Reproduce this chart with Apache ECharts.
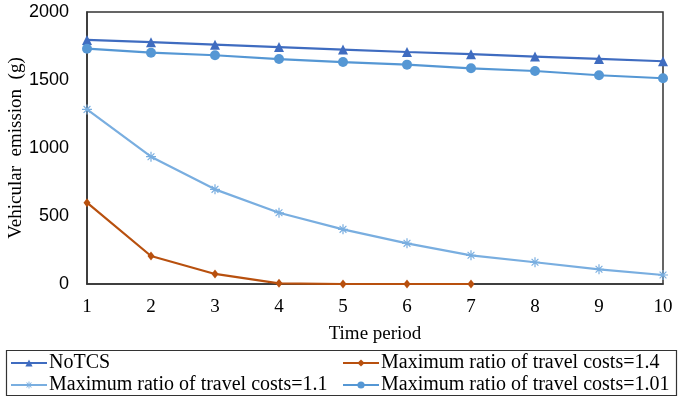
<!DOCTYPE html>
<html>
<head>
<meta charset="utf-8">
<script src="https://cdn.jsdelivr.net/npm/echarts@6/dist/echarts.min.js"></script>
<style>
  html, body { margin: 0; padding: 0; background: #fff; }
  #main { width: 680px; height: 398px; }
</style>
</head>
<body>
<div id="main"></div>
<script>
// data
var periods = [1, 2, 3, 4, 5, 6, 7, 8, 9, 10];
var seriesNames = [
    'NoTCS',
    'Maximum ratio of travel costs=1.4',
    'Maximum ratio of travel costs=1.1',
    'Maximum ratio of travel costs=1.01'
];
var noTCS = [1795, 1778, 1760, 1742, 1724, 1706, 1690, 1672, 1655, 1638];
var ratio14 = [598, 206, 74, 5, 0, 0, 0];
var ratio11 = [1284, 936, 696, 524, 402, 299, 211, 160, 108, 66];
var ratio101 = [1730, 1701, 1682, 1654, 1632, 1613, 1586, 1566, 1535, 1513];
var yTicks = [0, 500, 1000, 1500, 2000];

var serif = '"Liberation Serif", "Times New Roman", serif';
var sans = '"Liberation Sans", Arial, sans-serif';

// 6-armed asterisk marker
var asterisk = 'path://M0,4.4L10,4.4L10,5.6L0,5.6Z M4.4,0L5.6,0L5.6,10L4.4,10Z ' +
    'M1.2,2L2,1.2L8.8,8L8,8.8Z M8,1.2L8.8,2L2,8.8L1.2,8Z';

function toPairs(vals) {
    return vals.map(function (v, i) { return [periods[i], v]; });
}

var myChart = echarts.init(document.getElementById('main'), null, { renderer: 'canvas' });

var legendText = { fontFamily: serif, fontSize: 20, color: '#000', padding: [0, 0, 0, -3] };

var option = {
    animation: false,
    backgroundColor: '#fff',
    grid: {
        left: 87, right: 17, top: 12, bottom: 114,
        containLabel: false, outerBoundsMode: 'none',
        show: true, borderColor: '#333', borderWidth: 1.5
    },
    xAxis: {
        type: 'value', min: 1, max: 10, interval: 1,
        name: 'Time period', nameLocation: 'middle', nameGap: 41,
        nameMoveOverlap: false,
        nameTextStyle: { fontFamily: serif, fontSize: 19, color: '#000' },
        axisLine: { show: true, lineStyle: { color: '#333', width: 1.5 } },
        axisTick: { show: false },
        splitLine: { show: false },
        axisLabel: { fontFamily: serif, fontSize: 19, color: '#000', margin: 14 }
    },
    yAxis: {
        type: 'value', min: yTicks[0], max: yTicks[yTicks.length - 1], interval: 500,
        name: 'Vehicular  emission  (g)', nameLocation: 'middle', nameGap: 61,
        nameMoveOverlap: false,
        nameTextStyle: { fontFamily: serif, fontSize: 19, color: '#000' },
        axisLine: { show: true, lineStyle: { color: '#333', width: 1.5 } },
        axisTick: { show: false },
        splitLine: { show: false },
        axisLabel: {
            fontFamily: sans, fontSize: 18, color: '#000', margin: 18,
            formatter: function (v) { return String(v); }
        }
    },
    legend: [{
        left: 10, top: 353, orient: 'vertical', itemGap: 2,
        itemWidth: 36, itemHeight: 9, padding: 0,
        data: [seriesNames[0], seriesNames[2]],
        textStyle: legendText
    }, {
        left: 342, top: 353, orient: 'vertical', itemGap: 2,
        itemWidth: 36, itemHeight: 9, padding: 0,
        data: [seriesNames[1], seriesNames[3]],
        textStyle: legendText
    }],
    graphic: [{
        type: 'rect',
        shape: { x: 6.5, y: 350.5, width: 670, height: 45 },
        style: { fill: 'none', stroke: '#333', lineWidth: 1.2 }
    }],
    series: [{
        name: seriesNames[0], type: 'line', data: toPairs(noTCS),
        symbol: 'triangle', symbolSize: 10,
        lineStyle: { color: '#3F6CC0', width: 2.2 },
        itemStyle: { color: '#3F6CC0' }
    }, {
        name: seriesNames[1], type: 'line', data: toPairs(ratio14),
        symbol: 'diamond', symbolSize: [7, 9],
        lineStyle: { color: '#B8500E', width: 2.2 },
        itemStyle: { color: '#B8500E' }
    }, {
        name: seriesNames[2], type: 'line', data: toPairs(ratio11),
        symbol: asterisk, symbolSize: 10,
        lineStyle: { color: '#79AEE0', width: 2.2 },
        itemStyle: { color: '#79AEE0' }
    }, {
        name: seriesNames[3], type: 'line', data: toPairs(ratio101),
        symbol: 'circle', symbolSize: 10,
        lineStyle: { color: '#5597D4', width: 2.2 },
        itemStyle: { color: '#5597D4' }
    }]
};

if (option && typeof option === 'object') {
    myChart.setOption(option, true);
}
</script>
</body>
</html>
